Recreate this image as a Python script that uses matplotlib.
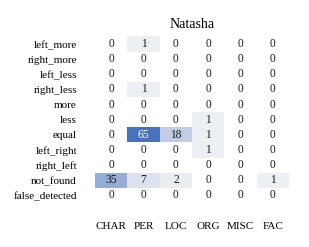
import numpy as np
import matplotlib
matplotlib.use("Agg")
import matplotlib.pyplot as plt
from matplotlib.colors import LinearSegmentedColormap

plt.rcParams['font.family'] = ['Liberation Serif', 'DejaVu Serif']

title = "Natasha"
rows = ["left_more", "right_more", "left_less", "right_less", "more", "less",
        "equal", "left_right", "right_left", "not_found", "false_detected"]
cols = ["CHAR", "PER", "LOC", "ORG", "MISC", "FAC"]
values = [
    [0, 1, 0, 0, 0, 0],
    [0, 0, 0, 0, 0, 0],
    [0, 0, 0, 0, 0, 0],
    [0, 1, 0, 0, 0, 0],
    [0, 0, 0, 0, 0, 0],
    [0, 0, 0, 1, 0, 0],
    [0, 65, 18, 1, 0, 0],
    [0, 0, 0, 1, 0, 0],
    [0, 0, 0, 0, 0, 0],
    [35, 7, 2, 0, 0, 1],
    [0, 0, 0, 0, 0, 0],
]

data = np.array(values, dtype=float)
masked = np.ma.masked_where(data == 0, data)

cmap = LinearSegmentedColormap.from_list("natasha", ["#eef0f4", "#4872ba"])
cmap.set_bad("white")

fig = plt.figure(figsize=(3.09, 2.47), dpi=100)
ax = fig.add_axes([95 / 309, 1 - 203 / 247, 194 / 309, 166.5 / 247])
ax.pcolormesh(masked, cmap=cmap, vmin=0, vmax=data.max())
ax.set_xlim(0, len(cols))
ax.set_ylim(len(rows), 0)

for i in range(len(rows)):
    for j in range(len(cols)):
        v = data[i, j]
        color = 'white' if v > 0.7 * data.max() else '#1a1a1a'
        ax.text(j + 0.5, i + 0.5, f"{int(v)}", ha='center', va='center',
                fontsize=8.3, color=color)

ax.set_xticks(np.arange(len(cols)) + 0.5)
ax.set_xticklabels(cols, fontsize=8)
ax.set_yticks(np.arange(len(rows)) + 0.5)
ax.set_yticklabels(rows, fontsize=8)
ax.tick_params(length=0, pad=13)
ax.tick_params(axis='x', pad=14)
for s in ax.spines.values():
    s.set_visible(False)

fig.text(192 / 309, 1 - 25 / 247, title, ha='center', va='center', fontsize=10)

fig.savefig("out.png", dpi=100)
